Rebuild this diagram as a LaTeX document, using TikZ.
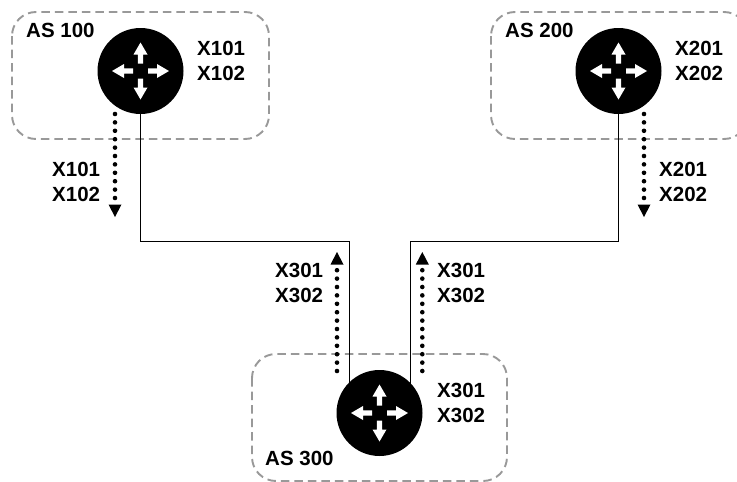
\documentclass[tikz,border=0pt]{standalone}
\usepackage{fontspec}
\setmainfont{Liberation Sans}
\definecolor{asgray}{HTML}{999999}
\tikzset{
  x=1pt,y=-1pt,
  asbox/.style={draw=asgray,line width=1.9pt,dash pattern=on 8.5pt off 5pt,rounded corners=24pt},
  router/.style={circle,fill=black,minimum size=86pt,inner sep=0pt,outer sep=0pt},
  link/.style={draw=black,line width=1pt},
  lbl/.style={font=\fontsize{20.5}{25}\selectfont\bfseries,align=left,inner sep=0pt},
  aslbl/.style={font=\fontsize{20.5}{24}\selectfont\bfseries,inner sep=0pt},
  adv/.style={draw=black,line width=4.6pt,dash pattern=on 0pt off 8.4pt,line cap=round,shorten >=16pt},
  advtip/.style={fill=black},
  wa/.style={fill=white,draw=none}
}
\newcommand{\arrowset}[1]{%
  \begin{scope}[shift={(#1)}]
    \foreach \a in {0,90,180,270}{
      \fill[wa,rotate=\a] (7.5,-2.6) -- (16.5,-2.6) -- (16.5,-7) -- (28.5,0) -- (16.5,7) -- (16.5,2.6) -- (7.5,2.6) -- cycle;
    }
  \end{scope}}
\begin{document}
\begin{tikzpicture}
\useasboundingbox (0,0) rectangle (737,482);
\fill[white] (0,0) rectangle (737,482);
% AS boxes
\draw[asbox] (12,12) rectangle (269,139);
\draw[asbox] (491,12) rectangle (748,139);
\draw[asbox] (252,354) rectangle (507,481);
% corner helper coordinates
\coordinate (c1) at (140.5,241);
\coordinate (c2) at (618.5,241);
\coordinate (c3) at (349.5,241);
\coordinate (c4) at (410.5,241);
\coordinate (e3) at (349.5,384);
\coordinate (e4) at (410.5,384);
% links
\node[router] (r1) at (140.5,71) {};
\node[router] (r2) at (618.5,71) {};
\node[router] (r3) at (379.5,413) {};
\draw[link] (r1.south) -- (c1) -- (c3) -- (e3);
\draw[link] (r2.south) -- (c2) -- (c4) -- (e4);
\arrowset{r1}\arrowset{r2}\arrowset{r3}
% dotted advertisements
\coordinate (a1s) at (115,114);
\coordinate (a1e) at (115,217);
\coordinate (a2s) at (644,114);
\coordinate (a2e) at (644,217);
\coordinate (a3s) at (337,371);
\coordinate (a3e) at (337,252);
\coordinate (a4s) at (422.3,371);
\coordinate (a4e) at (422.3,252);
\draw[adv] (a1s) -- (a1e);
\draw[adv] (a2s) -- (a2e);
\draw[adv] (a3s) -- (a3e);
\draw[adv] (a4s) -- (a4e);
\fill[advtip] (108.5,204.5) -- (121.5,204.5) -- (115,217) -- cycle;
\fill[advtip] (637.5,204.5) -- (650.5,204.5) -- (644,217) -- cycle;
\fill[advtip] (330.5,264.5) -- (343.5,264.5) -- (337,252) -- cycle;
\fill[advtip] (415.8,264.5) -- (428.8,264.5) -- (422.3,252) -- cycle;
% labels
\node[aslbl,anchor=west] (l1) at (26,30) {AS 100};
\node[aslbl,anchor=west] (l2) at (505,30) {AS 200};
\node[aslbl,anchor=west] (l3) at (265,458) {AS 300};
\node[lbl,anchor=west] (t1) at (197,60.5) {X101\\X102};
\node[lbl,anchor=west] (t2) at (675,60.5) {X201\\X202};
\node[lbl,anchor=west] (t3) at (437,402.5) {X301\\X302};
\node[lbl,anchor=west] (t4) at (52,181.5) {X101\\X102};
\node[lbl,anchor=west] (t5) at (659,181.5) {X201\\X202};
\node[lbl,anchor=west] (t6) at (275,282.5) {X301\\X302};
\node[lbl,anchor=west] (t7) at (437,282.5) {X301\\X302};
\end{tikzpicture}
\end{document}
